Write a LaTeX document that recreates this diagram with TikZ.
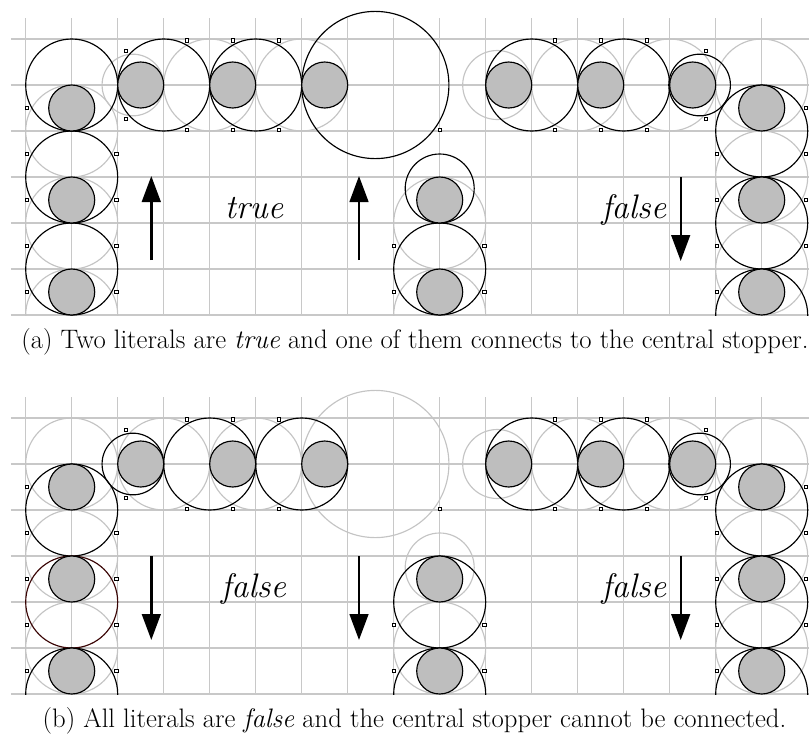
\documentclass[tikz,border=0pt]{standalone}
\usetikzlibrary{arrows.meta}
\definecolor{gridgray}{HTML}{C8C8C8}
\definecolor{ringgray}{HTML}{C4C4C4}
\definecolor{discgray}{HTML}{BEBEBE}
\definecolor{darkring}{HTML}{3A0505}
\tikzset{
  gridline/.style={draw=gridgray,line width=1.15pt},
  ghostring/.style={draw=ringgray,line width=1.15pt},
  ring/.style={draw=black,line width=1.15pt},
  redring/.style={draw=darkring,line width=1.15pt},
  disc/.style={draw=black,line width=1.15pt,fill=discgray},
  tick/.style={draw=black,fill=white,line width=0.75pt},
  bigarrow/.style={line width=2.4pt,-{Triangle[width=18.7pt,length=26pt]}},
  biglabel/.style={inner sep=0pt,anchor=base,font=\fontsize{34}{40}\selectfont\itshape},
  captiontext/.style={inner sep=0pt,anchor=base,font=\fontsize{26.7}{32}\selectfont}
}
\newcommand{\gridlines}{%
  \foreach \r in {0,...,6}{\draw[gridline] (-0.32,\r) -- (17.2,\r);}
  \foreach \c in {0,...,16}{\draw[gridline] (\c,-0.45) -- (\c,6);}
}
\newcommand{\discs}{%
  \foreach \p in {(1,1.5),(1,3.5),(1,5.5),(2.5,1),(4.5,1),(6.5,1),(10.5,1),(12.5,1),(14.5,1),(16,1.5),(16,3.5),(16,5.5),(9,3.5),(9,5.5)}
    {\draw[disc] \p circle[radius=0.5];}
}
\newcommand{\ticks}{%
  \foreach \p in {(0.03,1.5),(0.03,2.5),(1.97,2.5),(0.03,3.5),(1.97,3.5),(0.03,4.5),(1.97,4.5),(0.03,5.5),(1.97,5.5),
    (2.18,0.26),(2.18,1.74),(3.5,0.03),(4.5,0.03),(5.5,0.03),(3.5,1.97),(4.5,1.97),(5.5,1.97),
    (9,1.97),(8,4.5),(8,5.5),(9.97,4.5),(9.97,5.5),
    (11.5,0.03),(12.5,0.03),(13.5,0.03),(11.5,1.97),(12.5,1.97),(13.5,1.97),(14.79,0.26),(14.79,1.74),
    (16.96,1.5),(15.03,2.5),(16.96,2.5),(15.03,3.5),(16.96,3.5),(15.03,4.5),(16.96,4.5),(15.03,5.5)}
    {\path \p ++(-1.7pt,-1.7pt) coordinate (q); \draw[tick] (q) rectangle ++(3.4pt,3.4pt);}
}
\newcommand{\commonrings}{%
  \draw[ghostring] (10.25,1) circle[radius=0.75];
  \foreach \c in {12,14,16}{\draw[ghostring] (\c,1) circle[radius=1];}
  \foreach \r in {3,5}{\draw[ghostring] (16,\r) circle[radius=1];}
  \foreach \c in {11,13}{\draw[ring] (\c,1) circle[radius=1];}
  \draw[ring] (14.65,1) circle[radius=0.67];
  \foreach \r in {2,4,6}{\draw[ring] (16,\r) circle[radius=1];}
}
\begin{document}
\begin{tikzpicture}[x=1pt,y=-1pt]
\useasboundingbox (0,0) rectangle (809,734);
% panel (a)
\begin{scope}[shift={(25.7,39)},x=46pt,y=-46pt]
  \clip (-1,-1) rectangle (17.2,6);
  \gridlines
  \foreach \r in {2,4,6}{\draw[ghostring] (1,\r) circle[radius=1];}
  \draw[ghostring] (2.33,1) circle[radius=0.67];
  \foreach \c in {4,6}{\draw[ghostring] (\c,1) circle[radius=1];}
  \foreach \r in {4,6}{\draw[ghostring] (9,\r) circle[radius=1];}
  \commonrings
  \foreach \r in {1,3,5}{\draw[ring] (1,\r) circle[radius=1];}
  \foreach \c in {3,5}{\draw[ring] (\c,1) circle[radius=1];}
  \draw[ring] (7.6,1) circle[radius=1.6];
  \draw[ring] (9,3.25) circle[radius=0.75];
  \draw[ring] (9,5) circle[radius=1];
  \discs
  \ticks
\end{scope}
\coordinate (a1s) at (151.3,260); \coordinate (a1e) at (151.3,176);
\coordinate (a2s) at (359,260);   \coordinate (a2e) at (359,176);
\coordinate (a3s) at (680.7,177); \coordinate (a3e) at (680.7,261);
\draw[bigarrow] (a1s) -- (a1e);
\draw[bigarrow] (a2s) -- (a2e);
\draw[bigarrow] (a3s) -- (a3e);
\node[biglabel] (ltrue) at (254,218) {true};
\node[biglabel] (lfalsea) at (633.8,218) {false};
\node[captiontext] (capa) at (415,348) {(a) Two literals are \textit{true} and one of them connects to the central stopper.};
% panel (b)
\begin{scope}[shift={(25.7,418)},x=46pt,y=-46pt]
  \clip (-1,-1) rectangle (17.2,6);
  \gridlines
  \foreach \r in {1,3,5}{\draw[ghostring] (1,\r) circle[radius=1];}
  \foreach \c in {3,5}{\draw[ghostring] (\c,1) circle[radius=1];}
  \draw[ghostring] (7.6,1) circle[radius=1.6];
  \draw[ghostring] (9,3.25) circle[radius=0.75];
  \draw[ghostring] (9,5) circle[radius=1];
  \commonrings
  \foreach \r in {2,6}{\draw[ring] (1,\r) circle[radius=1];}
  \draw[redring] (1,4) circle[radius=1];
  \draw[ring] (2.33,1) circle[radius=0.67];
  \foreach \c in {4,6}{\draw[ring] (\c,1) circle[radius=1];}
  \foreach \r in {4,6}{\draw[ring] (9,\r) circle[radius=1];}
  \discs
  \ticks
\end{scope}
\coordinate (b1s) at (151.3,556); \coordinate (b1e) at (151.3,640);
\coordinate (b2s) at (359,556);   \coordinate (b2e) at (359,640);
\coordinate (b3s) at (680.7,556); \coordinate (b3e) at (680.7,640);
\draw[bigarrow] (b1s) -- (b1e);
\draw[bigarrow] (b2s) -- (b2e);
\draw[bigarrow] (b3s) -- (b3e);
\node[biglabel] (lfalseb) at (253.5,597) {false};
\node[biglabel] (lfalsec) at (633.8,597) {false};
\node[captiontext] (capb) at (414.5,727.5) {(b) All literals are \textit{false} and the central stopper cannot be connected.};
\end{tikzpicture}
\end{document}
